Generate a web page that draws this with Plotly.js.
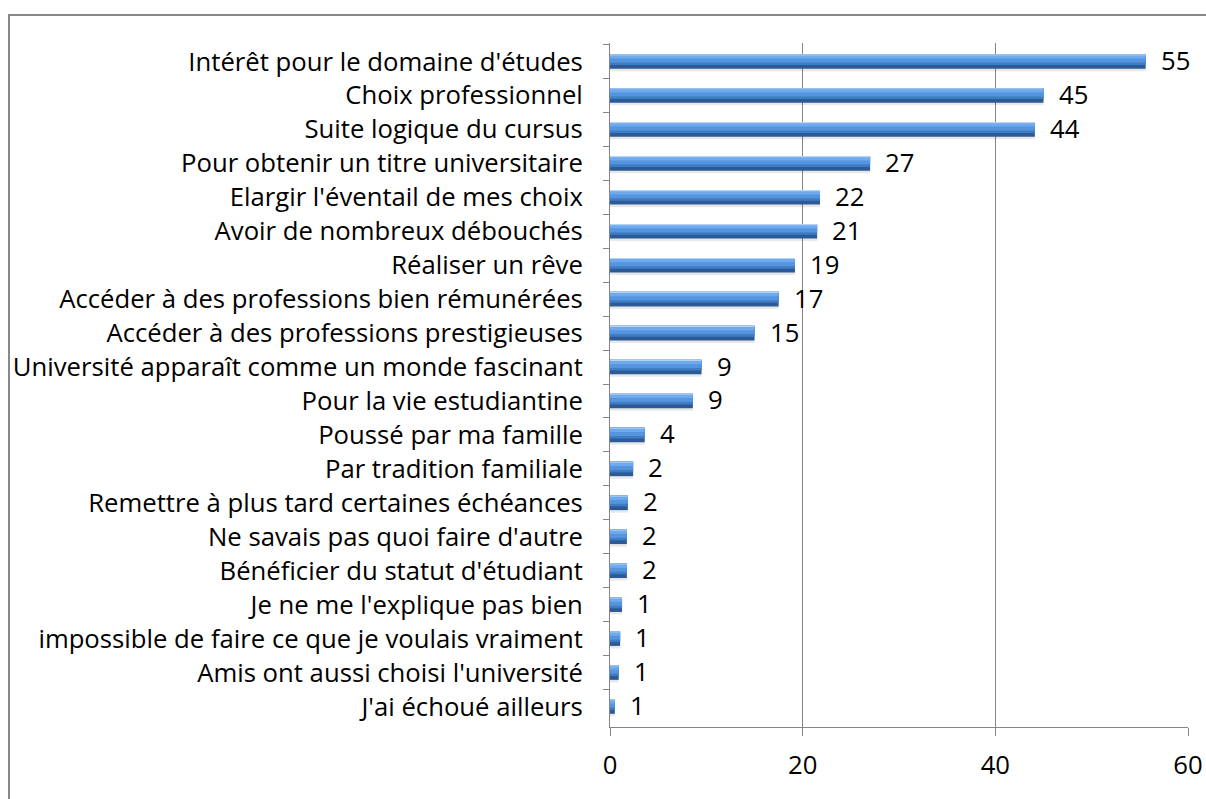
<!DOCTYPE html>
<html>
<head>
<meta charset="utf-8">
<script src="https://cdn.plot.ly/plotly-3.0.1.min.js"></script>
<style>
html,body{margin:0;padding:0;background:#fff;}
#chart{position:absolute;left:0;top:0;width:1206px;height:799px;}
#frame{position:absolute;left:8px;top:14px;width:1206px;height:800px;border-left:2px solid #888;border-top:2px solid #888;pointer-events:none;}
</style>
</head>
<body>
<div id="chart"></div>
<div id="frame"></div>
<script>
const categories = [
  "Intérêt pour le domaine d'études",
  "Choix professionnel",
  "Suite logique du cursus",
  "Pour obtenir un titre universitaire",
  "Elargir l'éventail de mes choix",
  "Avoir de nombreux débouchés",
  "Réaliser un rêve",
  "Accéder à des professions bien rémunérées",
  "Accéder à des professions prestigieuses",
  "Université apparaît comme un monde fascinant",
  "Pour la vie estudiantine",
  "Poussé par ma famille",
  "Par tradition familiale",
  "Remettre à plus tard certaines échéances",
  "Ne savais pas quoi faire d'autre",
  "Bénéficier du statut d'étudiant",
  "Je ne me l'explique pas bien",
  "impossible de faire ce que je voulais vraiment",
  "Amis ont aussi choisi l'université",
  "J'ai échoué ailleurs"
];
const values = [55.6, 45.0, 44.1, 27.0, 21.8, 21.5, 19.2, 17.5, 15.0, 9.5, 8.6, 3.6, 2.4, 1.85, 1.75, 1.75, 1.25, 1.05, 0.9, 0.5];
const valueLabels = ["55","45","44","27","22","21","19","17","15","9","9","4","2","2","2","2","1","1","1","1"];
const xTicks = [0, 20, 40, 60];

const FONT = "Open Sans, Noto Sans, sans-serif";
const FS = 25.7;
function layer(color, offset, width) {
  return {
    type: 'bar', orientation: 'h', x: values, y: categories,
    offset: offset, width: width,
    marker: {color: color, line: {width: 0}},
    hoverinfo: 'skip', showlegend: false
  };
}
const traces = [
  layer('rgba(0,0,0,0.09)', -0.19, 0.48),
  layer('#2c5a96', -0.215, 0.43),
  layer('#3f7cc4', -0.215, 0.32),
  layer('#5595e0', -0.2, 0.23),
  layer('#6eaaed', -0.185, 0.1),
  layer('#b3d4f6', -0.215, 0.035)
];

const annotations = values.map((v, i) => ({
  x: v, y: categories[i], xref: 'x', yref: 'y',
  text: valueLabels[i], showarrow: false,
  xanchor: 'left', yanchor: 'middle', xshift: 13, yshift: 1,
  font: {family: FONT, size: FS, color: '#000'}
}));

const layout = {
  width: 1206, height: 799,
  margin: {l: 610, r: 18, t: 43, b: 72},
  paper_bgcolor: '#fff', plot_bgcolor: '#fff',
  barmode: 'overlay',
  showlegend: false,
  font: {family: FONT, size: FS, color: '#000'},
  xaxis: {
    range: [0, 60], tickvals: xTicks, ticktext: xTicks.map(String),
    showgrid: true, gridcolor: '#868686', gridwidth: 1,
    zeroline: false,
    showline: true, linecolor: '#868686', linewidth: 1,
    ticks: 'outside', ticklen: 8, tickcolor: '#868686', tickwidth: 1,
    ticklabelstandoff: 7,
    tickfont: {family: FONT, size: FS, color: '#000'},
    fixedrange: true
  },
  yaxis: {
    type: 'category', categoryorder: 'array', categoryarray: categories,
    autorange: 'reversed',
    showgrid: false, zeroline: false,
    showline: true, linecolor: '#868686', linewidth: 1,
    ticks: 'outside', ticklen: 6, tickcolor: '#868686', tickwidth: 1,
    tickson: 'boundaries',
    ticklabelstandoff: 21,
    tickfont: {family: FONT, size: FS, color: '#000'},
    fixedrange: true
  },
  annotations: annotations
};

Plotly.newPlot('chart', traces, layout, {displayModeBar: false, staticPlot: true});
</script>
</body>
</html>
